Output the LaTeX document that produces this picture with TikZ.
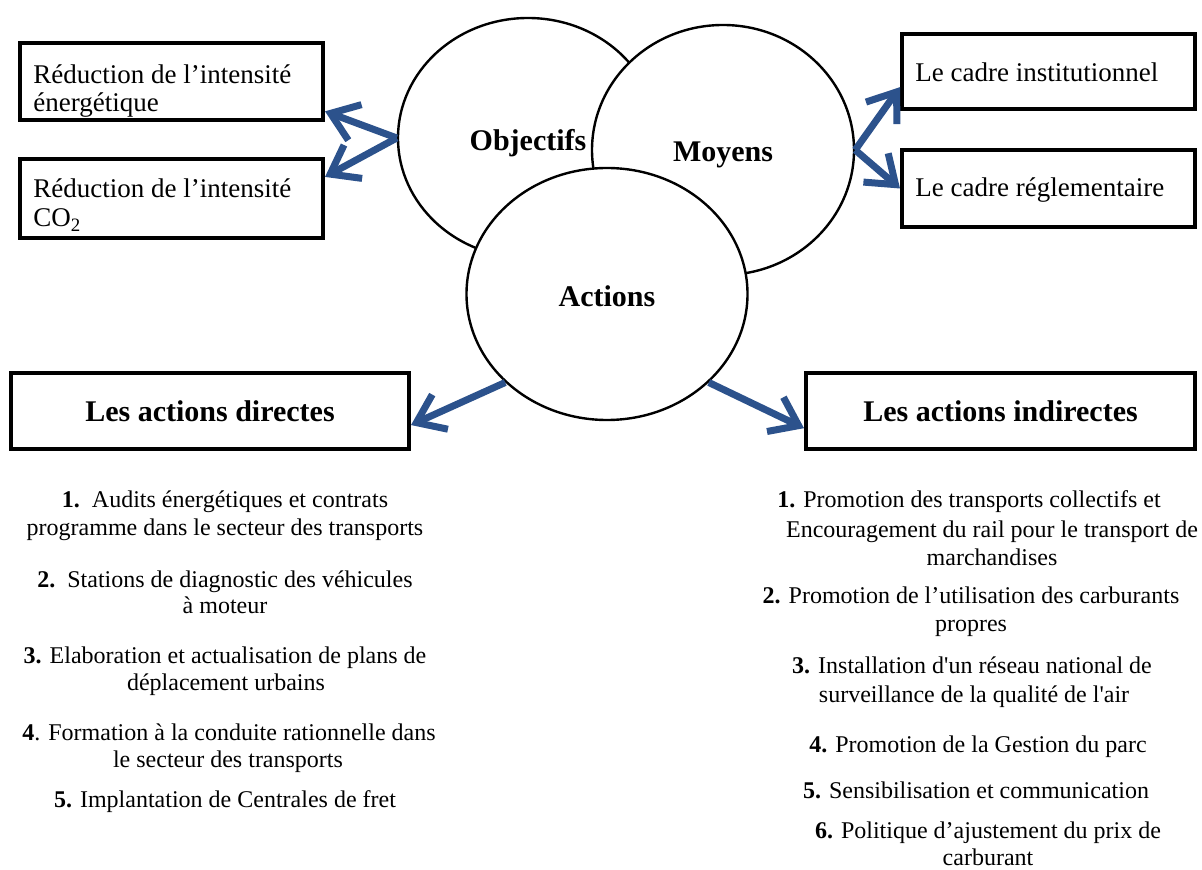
\documentclass[tikz,border=0pt]{standalone}
\usepackage{fontspec}
\setmainfont{Liberation Serif}
\usetikzlibrary{arrows.meta, shapes.geometric}
\definecolor{bleu}{RGB}{44,82,140}
\tikzset{
  rond/.style={ellipse, draw, line width=1.2pt, fill=white, inner sep=0pt,
    font=\fontsize{15}{18}\selectfont\bfseries},
  cadre/.style={draw, line width=2pt, inner sep=0pt},
  fleche/.style={draw=bleu, line width=3.5pt, -{Straight Barb[length=13pt,width=19pt]}},
  boxtxt/.style={anchor=base west, inner sep=0pt, font=\fontsize{13.5}{15}\selectfont},
  listtxt/.style={anchor=base, inner sep=0pt, font=\fontsize{12}{14}\selectfont}
}

\begin{document}
\begin{tikzpicture}[x=0.5pt, y=-0.5pt]
  \useasboundingbox (0,0) rectangle (1202,870);

  % the three circles
  \node[rond, minimum width=130pt, minimum height=120pt] (obj) at (528,138) {\raisebox{-6.5pt}[0pt][0pt]{Objectifs}};
  \node[rond, minimum width=131pt, minimum height=125pt] (moy) at (723,150) {\raisebox{-5.7pt}[0pt][0pt]{Moyens}};
  \node[rond, minimum width=140.5pt, minimum height=126pt] (act) at (607,294) {\raisebox{-6.5pt}[0pt][0pt]{Actions}};

  % boxes
  \node[cadre, minimum width=151.5pt, minimum height=38.5pt] (redEner) at (171.5,81.5) {};
  \node[cadre, minimum width=151.5pt, minimum height=39.5pt] (redCO) at (171.5,198.5) {};
  \node[cadre, minimum width=146.5pt, minimum height=37.5pt] (cadreInst) at (1048.5,71.5) {};
  \node[cadre, minimum width=146.5pt, minimum height=38.5pt] (cadreRegl) at (1048.5,188.5) {};
  \node[cadre, minimum width=199pt, minimum height=38pt,
        font=\fontsize{15}{18}\selectfont\bfseries] (actDir) at (210,411) {Les actions directes};
  \node[cadre, minimum width=194.5pt, minimum height=38pt,
        font=\fontsize{15}{18}\selectfont\bfseries] (actInd) at (1000.5,411) {Les actions indirectes};

  \foreach \X/\Y/\T [count=\i] in {
    33/84/Réduction de l’intensité, 33/112/énergétique,
    33/198/Réduction de l’intensité, 33/227/CO\textsubscript{2},
    915/82/Le cadre institutionnel, 915/197/Le cadre réglementaire}
    \node[boxtxt] (bt\i) at (\X,\Y) {\T};

  % lists of actions
  \foreach \X/\Y/\T [count=\i] in {
    225/508/{\textbf{1.}\ \ Audits énergétiques et contrats},
    225/535/programme dans le secteur des transports,
    225/587/{\textbf{2.}\ \ Stations de diagnostic des véhicules},
    225/613/à moteur,
    225/663/{\textbf{3.} Elaboration et actualisation de plans de},
    226/690/déplacement urbains,
    229/740/{\textbf{4}. Formation à la conduite rationnelle dans},
    228/767/le secteur des transports,
    225/807/{\textbf{5.} Implantation de Centrales de fret}}
    \node[listtxt] (ld\i) at (\X,\Y) {\T};

  \foreach \X/\Y/\T [count=\i] in {
    969/508/{\textbf{1.} Promotion des transports collectifs et},
    992/537/Encouragement du rail pour le transport de,
    992/565/marchandises,
    971/603/{\textbf{2.} Promotion de l’utilisation des carburants},
    971/631/propres,
    972/673/{\textbf{3.} Installation d\textquotesingle un réseau national de},
    974/702/{surveillance de la qualité de l\textquotesingle air},
    978/752/{\textbf{4.} Promotion de la Gestion du parc},
    976/798/{\textbf{5.} Sensibilisation et communication},
    988/838/{\textbf{6.} Politique d’ajustement du prix de},
    988/865/carburant}
    \node[listtxt] (li\i) at (\X,\Y) {\T};

  % arrows
  \draw[fleche] (obj.west) -- (redEner.-11.4);
  \draw[fleche] (obj.west) -- (redCO.8.1);
  \draw[fleche] (moy.east) -- (cadreInst.186.4);
  \draw[fleche] (moy.east) -- (cadreRegl.west);
  \draw[fleche] (act.221.7) -- (actDir.-4.9);
  \draw[fleche] (act.-41.4) -- (actInd.185.6);
\end{tikzpicture}
\end{document}
